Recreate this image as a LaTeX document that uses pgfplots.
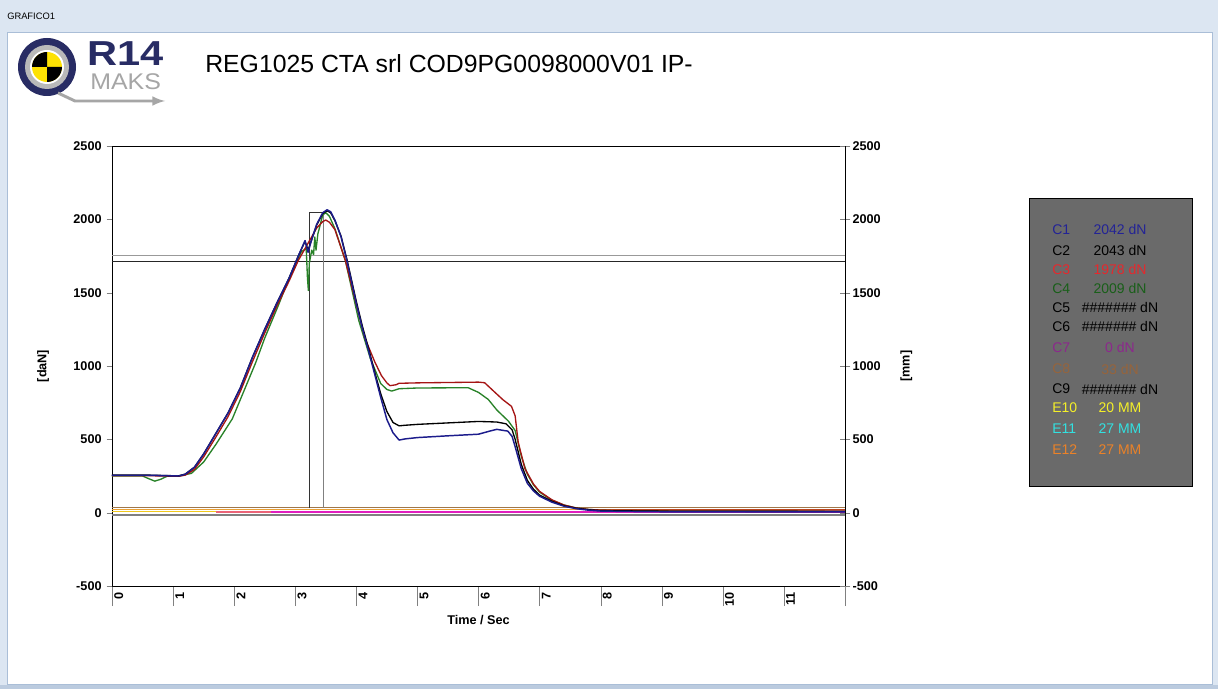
\documentclass[border=0pt]{standalone}
\usepackage{pgfplots}
\pgfplotsset{compat=1.18}
\usepackage{fontspec}
\setmainfont{Liberation Sans}
\definecolor{winbar}{RGB}{220,230,242}
\definecolor{winedge}{RGB}{170,190,215}
\definecolor{c1}{RGB}{28,28,140}
\definecolor{c2}{RGB}{0,0,0}
\definecolor{c3}{RGB}{165,20,20}
\definecolor{c4}{RGB}{40,130,40}
\definecolor{c8}{RGB}{160,120,75}
\definecolor{e12}{RGB}{235,160,50}
\definecolor{e10}{RGB}{240,200,30}
\definecolor{magc}{RGB}{225,30,190}
\definecolor{salm}{RGB}{235,100,120}
\definecolor{legbg}{RGB}{106,106,106}
\definecolor{lc1}{RGB}{35,35,150}
\definecolor{lc3}{RGB}{230,40,45}
\definecolor{lc4}{RGB}{25,95,25}
\definecolor{lc7}{RGB}{140,40,140}
\definecolor{lc8}{RGB}{150,100,60}
\definecolor{le10}{RGB}{245,240,40}
\definecolor{le11}{RGB}{50,225,225}
\definecolor{le12}{RGB}{235,130,40}
\definecolor{logonavy}{RGB}{40,44,100}
\begin{document}
\begin{tikzpicture}
% window chrome, drawn in pixel units (y down)
\begin{scope}[shift={(0pt,516.75pt)},x=0.75pt,y=-0.75pt]
  \fill[winbar] (0,0) rectangle (1218,689);
  \fill[white] (7,32) rectangle (1212,684);
  \draw[winedge,line width=0.5pt] (7,32) rectangle (1212,684);
  \fill[winedge!80] (0,685) rectangle (1218,689);
  \node[anchor=west,font=\fontsize{7}{8}\selectfont,inner sep=0pt] at (7,16) {GRAFICO1};
  % logo
  \fill[logonavy] (47,67) circle (29);
  \fill[gray!55] (47,67) circle (22);
  \fill[white] (47,67) circle (17);
  \fill[yellow!85!orange] (47,67) circle (15);
  \fill[black] (47,67) -- (62,67) arc (0:90:15) -- cycle;
  \fill[black] (47,67) -- (32,67) arc (180:270:15) -- cycle;
  \draw[gray!70,line width=2.2pt,-latex] (58,93) -- (75,101) -- (165,101);
  \node[anchor=west,text=logonavy,font=\bfseries\fontsize{26}{28}\selectfont,inner sep=0pt,xscale=1.2] at (87,54) {R14};
  \node[anchor=west,text=gray!70,font=\fontsize{17}{18}\selectfont,inner sep=0pt,xscale=1.1] at (90,82) {MAKS};
  % title
  \node[anchor=west,font=\fontsize{18.6}{21}\selectfont,inner sep=0pt] at (205,64) {REG1025 CTA srl COD9PG0098000V01 IP-};
  % legend box
  \fill[legbg] (1029,198) rectangle (1192,486);
  \draw[black,line width=0.6pt] (1029,198) rectangle (1192,486);
  \begin{scope}[every node/.style={inner sep=0pt,font=\fontsize{10.5}{12}\selectfont}]
    \node[anchor=west,text=lc1] at (1052,230) {C1};  \node[text=lc1] at (1120,230) {2042 dN};
    \node[anchor=west,text=black] at (1052,251) {C2}; \node[text=black] at (1120,251) {2043 dN};
    \node[anchor=west,text=lc3] at (1052,270) {C3};  \node[text=lc3] at (1120,270) {1978 dN};
    \node[anchor=west,text=lc4] at (1052,289) {C4};  \node[text=lc4] at (1120,289) {2009 dN};
    \node[anchor=west,text=black] at (1052,308) {C5}; \node[text=black] at (1120,308) {\#\#\#\#\#\#\# dN};
    \node[anchor=west,text=black] at (1052,327) {C6}; \node[text=black] at (1120,327) {\#\#\#\#\#\#\# dN};
    \node[anchor=west,text=lc7] at (1052,348) {C7};  \node[text=lc7] at (1120,348) {0 dN};
    \node[anchor=west,text=lc8] at (1052,369) {C8};  \node[text=lc8] at (1120,369) {33 dN};
    \node[anchor=west,text=black] at (1052,389) {C9}; \node[text=black] at (1120,389) {\#\#\#\#\#\#\# dN};
    \node[anchor=west,text=le10] at (1052,408) {E10}; \node[text=le10] at (1120,408) {20 MM};
    \node[anchor=west,text=le11] at (1052,429) {E11}; \node[text=le11] at (1120,429) {27 MM};
    \node[anchor=west,text=le12] at (1052,450) {E12}; \node[text=le12] at (1120,450) {27 MM};
  \end{scope}
\end{scope}

\pgfplotsset{
  every axis/.append style={
    at={(84pt,77.25pt)}, anchor=south west,
    scale only axis, width=549.75pt, height=330pt,
    xmin=0, xmax=12, ymin=-500, ymax=2500,
    ytick={-500,0,500,1000,1500,2000,2500},
    scaled y ticks=false,
    /pgf/number format/assume math mode=true,
    /pgf/number format/1000 sep={},
    tick label style={font=\bfseries\fontsize{9.5}{11}\selectfont},
    label style={font=\bfseries\fontsize{9.5}{11}\selectfont},
  }
}
\begin{axis}[
  xtick={0,1,...,12},
  xticklabels={0,1,2,3,4,5,6,7,8,9,10,11,},
  tick align=outside,
  ytick pos=left, xtick pos=bottom,
  xtick style={/pgfplots/major tick length=15pt},
  ytick style={/pgfplots/major tick length=4pt},
  xticklabel style={xshift=5pt, yshift=3pt, rotate=90, anchor=east},
  xlabel={Time / Sec},
  ylabel={[daN]},
  xlabel style={yshift=0pt},
  ylabel style={yshift=11.5pt},
  clip=true,
  line join=round,
]
% reference lines
\addplot[gray!80, line width=0.7pt] coordinates {(0,1754) (12,1754)};
\addplot[black!85, line width=0.7pt] coordinates {(0,1713) (12,1713)};
% near-zero channels
\addplot[gray, line width=0.9pt] coordinates {(0,-16) (12,-16)};
\addplot[e10, line width=1.2pt] coordinates {(0,8) (1.7,8)};
\addplot[salm, line width=1.2pt] coordinates {(1.7,6) (2.6,6)};
\addplot[magc, line width=1.2pt] coordinates {(2.6,4) (12,4)};
\addplot[e12, line width=1.2pt] coordinates {(0,22) (12,22)};
\addplot[c8, line width=1.2pt] coordinates {(0,34) (12,34)};
% pulse
\addplot[black!80, line width=0.7pt] coordinates {(3.23,30) (3.23,2045) (3.47,2045)};
\addplot[gray, line width=0.7pt] coordinates {(3.47,2045) (3.47,30)};
% C4 green
\addplot[c4, line width=1pt] coordinates {
(0,250) (0.5,250) (0.6,232) (0.7,215) (0.8,228) (0.9,248) (1.1,250) (1.3,268) (1.5,345)
(1.7,465) (1.97,640) (2.1,770) (2.35,1020) (2.5,1190) (2.73,1420) (2.9,1600) (3.1,1780)
(3.18,1800) (3.2,1600) (3.215,1515) (3.23,1700) (3.27,1790) (3.3,1760) (3.32,1880) (3.34,1790)
(3.37,1900) (3.45,2030) (3.5,2045) (3.56,2020) (3.65,1935) (3.82,1720) (4.04,1310) (4.23,1050)
(4.4,880) (4.5,840) (4.58,829) (4.7,845) (5.0,850) (5.83,852) (6.0,820) (6.16,772) (6.3,700)
(6.49,624) (6.6,560) (6.7,386) (6.8,262) (6.9,190) (7.0,140) (7.2,85) (7.4,52) (7.6,32)
(7.8,22) (8.0,16) (9,12) (12,10)};
% C3 red
\addplot[c3, line width=1pt] coordinates {
(0,252) (0.6,252) (1.09,248) (1.2,256) (1.35,295) (1.5,380) (1.7,515) (1.9,655) (2.1,825)
(2.3,1030) (2.5,1225) (2.7,1410) (2.9,1580) (3.05,1720) (3.2,1830) (3.35,1940) (3.45,1985)
(3.5,1995) (3.56,1980) (3.65,1930) (3.82,1720) (4.0,1420) (4.14,1190) (4.3,1030) (4.41,935)
(4.5,885) (4.55,866) (4.65,872) (4.7,882) (5.0,885) (6.0,890) (6.1,886) (6.27,820) (6.4,770)
(6.54,725) (6.6,660) (6.65,480) (6.76,300) (6.9,195) (7.0,145) (7.2,88) (7.4,52) (7.6,32)
(7.8,22) (8.0,18) (9,18) (12,18)};
% C2 black
\addplot[c2, line width=1pt] coordinates {
(0,256) (0.6,256) (1.09,251) (1.2,263) (1.35,310) (1.5,400) (1.7,540) (1.9,680) (2.1,850)
(2.3,1060) (2.5,1250) (2.7,1430) (2.9,1600) (3.05,1750) (3.16,1850) (3.21,1790) (3.26,1850)
(3.35,1960) (3.45,2040) (3.52,2058) (3.58,2045) (3.65,1990) (3.75,1885) (3.85,1720) (4.0,1440)
(4.1,1270) (4.2,1120) (4.3,960) (4.4,810) (4.5,690) (4.6,615) (4.7,592) (4.8,596) (5.0,602)
(5.5,612) (6.0,622) (6.3,618) (6.45,606) (6.55,565) (6.6,500) (6.7,330) (6.8,220) (6.9,160)
(7.0,120) (7.2,78) (7.4,47) (7.6,30) (7.8,20) (8.0,14) (9,10) (12,8)};
% C1 blue
\addplot[c1, line width=1.1pt] coordinates {
(0,255) (0.6,255) (1.09,250) (1.2,262) (1.35,310) (1.5,400) (1.7,540) (1.9,680) (2.1,850)
(2.3,1060) (2.5,1250) (2.7,1430) (2.9,1600) (3.05,1750) (3.16,1855) (3.21,1775) (3.26,1850)
(3.35,1965) (3.45,2045) (3.52,2065) (3.58,2052) (3.65,1995) (3.75,1880) (3.85,1710) (4.0,1425)
(4.1,1255) (4.2,1105) (4.3,945) (4.4,785) (4.5,635) (4.6,545) (4.7,495) (4.8,503) (5.0,512)
(5.5,524) (6.0,535) (6.2,558) (6.3,568) (6.48,556) (6.55,520) (6.6,450) (6.7,300) (6.8,200)
(6.9,148) (7.0,112) (7.2,72) (7.4,44) (7.6,27) (7.8,17) (8.0,11) (8.5,8) (9,6) (12,5)};
\end{axis}
\begin{axis}[
  axis x line=none,
  axis y line*=right,
  tick align=center,
  ytick style={/pgfplots/major tick length=8pt},
  ylabel={[mm]},
  ylabel style={yshift=-8pt},
]
\addplot[draw=none] coordinates {(0,0)};
\end{axis}
\end{tikzpicture}
\end{document}
